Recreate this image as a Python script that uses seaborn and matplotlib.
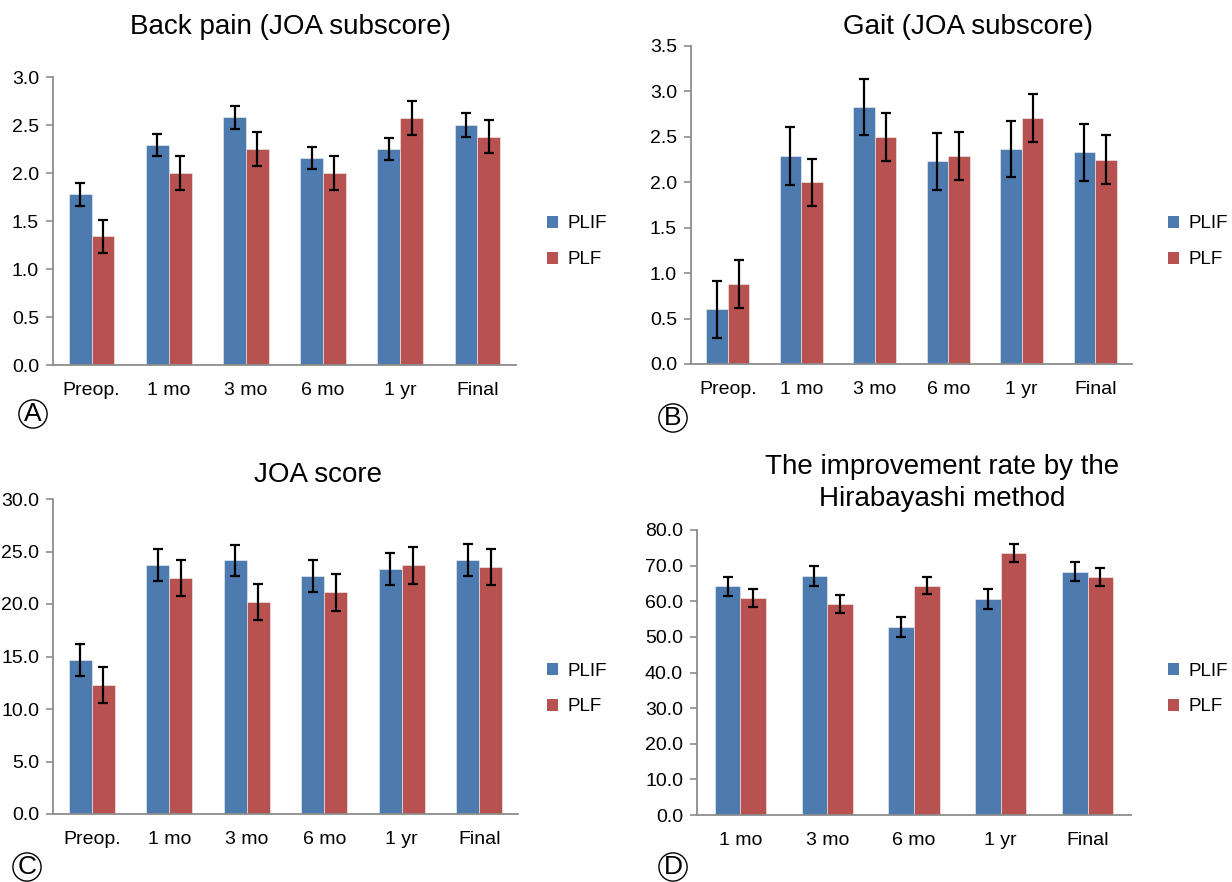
import matplotlib
matplotlib.use("Agg")
import matplotlib.pyplot as plt
from matplotlib.patches import Patch
from matplotlib.ticker import FixedLocator, FormatStrFormatter, MultipleLocator
import seaborn as sns
import pandas as pd
import numpy as np

sns.set_style("white")
plt.rcParams["font.family"] = ["Liberation Sans", "DejaVu Sans"]
plt.rcParams["text.color"] = "black"
plt.rcParams["xtick.labelcolor"] = "black"
plt.rcParams["ytick.labelcolor"] = "black"

# ---- data -------------------------------------------------------------
groups = ["PLIF", "PLF"]
periods_full = ["Preop.", "1 mo", "3 mo", "6 mo", "1 yr", "Final"]
periods_post = ["1 mo", "3 mo", "6 mo", "1 yr", "Final"]

back_plif = [1.78, 2.29, 2.58, 2.16, 2.25, 2.50]
back_plf = [1.34, 2.00, 2.25, 2.00, 2.57, 2.38]
back_plif_sd = [0.12, 0.115, 0.12, 0.115, 0.115, 0.12]
back_plf_sd = [0.175, 0.18, 0.175, 0.18, 0.175, 0.175]

gait_plif = [0.60, 2.29, 2.83, 2.23, 2.37, 2.33]
gait_plf = [0.88, 2.00, 2.50, 2.29, 2.71, 2.25]
gait_plif_sd = [0.315, 0.315, 0.31, 0.315, 0.31, 0.315]
gait_plf_sd = [0.265, 0.26, 0.265, 0.265, 0.265, 0.265]

joa_plif = [14.7, 23.7, 24.15, 22.7, 23.3, 24.2]
joa_plf = [12.3, 22.5, 20.2, 21.1, 23.7, 23.5]
joa_plif_sd = [1.53, 1.5, 1.5, 1.52, 1.53, 1.5]
joa_plf_sd = [1.73, 1.73, 1.72, 1.73, 1.75, 1.73]

rate_plif = [64.2, 67.1, 52.9, 60.7, 68.3]
rate_plf = [60.9, 59.3, 64.4, 73.5, 66.8]
rate_plif_sd = [2.7, 2.75, 2.8, 2.8, 2.75]
rate_plf_sd = [2.5, 2.5, 2.5, 2.5, 2.5]

colors = {"PLIF": "#4E7BAF", "PLF": "#B85250"}
W, H = 1232, 882


def fx(px):
    return px / W


def fy(py):
    return 1 - py / H


def make_panel(fig, rect, cats, v1, v2, s1, s2, ymax, step):
    ax = fig.add_axes(rect)
    df = pd.DataFrame({
        "period": cats * 2,
        "group": [groups[0]] * len(cats) + [groups[1]] * len(cats),
        "value": list(v1) + list(v2),
        "sd": list(s1) + list(s2),
    })
    sns.barplot(data=df, x="period", y="value", hue="group", order=cats,
                hue_order=groups, palette=colors, errorbar=None, width=0.59,
                edgecolor="#F2F2F2", linewidth=0.4, saturation=1, legend=False,
                ax=ax)
    # error bars on each bar centre
    lookup = {(r.period, r.group): r.sd for r in df.itertuples()}
    for p in ax.patches:
        cx = p.get_x() + p.get_width() / 2
        i = int(round(cx))
        g = groups[0] if cx < i else groups[1]
        ax.errorbar(cx, p.get_height(), yerr=lookup[(cats[i], g)],
                    fmt="none", ecolor="black", elinewidth=1.6,
                    capsize=3.8, capthick=1.6, zorder=5)
    ax.set_xlim(-0.5, len(cats) - 0.5)
    ax.set_ylim(0, ymax)
    ax.yaxis.set_major_locator(MultipleLocator(step))
    ax.yaxis.set_major_formatter(FormatStrFormatter("%.1f"))
    ax.xaxis.set_minor_locator(FixedLocator(np.arange(len(cats) + 1) - 0.5))
    ax.tick_params(axis="x", which="major", length=0, pad=12, labelsize=14)
    ax.tick_params(axis="x", which="minor", length=6, width=1.2,
                   color="#8C8C8C", direction="out")
    ax.tick_params(axis="y", length=5, width=1.2, color="#8C8C8C",
                   direction="out", pad=5, labelsize=14, left=True)
    for side in ("top", "right"):
        ax.spines[side].set_visible(False)
    for side in ("left", "bottom"):
        ax.spines[side].set_color("#8C8C8C")
        ax.spines[side].set_linewidth(1.3)
    ax.set_xlabel("")
    ax.set_ylabel("")
    return ax


def add_legend(fig, ax, x, y):
    handles = [Patch(facecolor=colors[g], edgecolor="none", label=g)
               for g in groups]
    ax.legend(handles=handles, loc="upper left", frameon=False,
              bbox_to_anchor=(fx(x), fy(y)), bbox_transform=fig.transFigure,
              fontsize=13.5, handlelength=0.62, handleheight=0.62,
              handletextpad=0.5, labelspacing=1.0, borderaxespad=0)


fig = plt.figure(figsize=(W / 100, H / 100), dpi=100)

axA = make_panel(fig, [fx(53), fy(365), fx(463), (365 - 77) / H],
                 periods_full, back_plif, back_plf, back_plif_sd, back_plf_sd,
                 3.0, 0.5)
axB = make_panel(fig, [fx(691), fy(364), fx(441), (364 - 46) / H],
                 periods_full, gait_plif, gait_plf, gait_plif_sd, gait_plf_sd,
                 3.5, 0.5)
axC = make_panel(fig, [fx(53), fy(814), fx(465), (814 - 499) / H],
                 periods_full, joa_plif, joa_plf, joa_plif_sd, joa_plf_sd,
                 30.0, 5.0)
axD = make_panel(fig, [fx(697), fy(815), fx(434), (815 - 530) / H],
                 periods_post, rate_plif, rate_plf, rate_plif_sd, rate_plf_sd,
                 80.0, 10.0)

add_legend(fig, axA, 539, 208)
add_legend(fig, axB, 1160, 208)
add_legend(fig, axC, 539, 655)
add_legend(fig, axD, 1160, 655)

title_kw = dict(ha="center", va="baseline", fontsize=20)
fig.text(fx(290), fy(34), "Back pain (JOA subscore)", **title_kw)
fig.text(fx(968), fy(34), "Gait (JOA subscore)", **title_kw)
fig.text(fx(318), fy(482), "JOA score", **title_kw)
fig.text(fx(942), fy(474), "The improvement rate by the", **title_kw)
fig.text(fx(942), fy(506), "Hirabayashi method", **title_kw)

letter_kw = dict(ha="center", va="center", fontsize=19,
                 bbox=dict(boxstyle="circle,pad=0.08", fc="none", ec="black",
                           lw=1.0))
fig.text(fx(33), fy(414), "A", **letter_kw)
fig.text(fx(673), fy(418), "B", **letter_kw)
fig.text(fx(27), fy(867), "C", **letter_kw)
fig.text(fx(673), fy(867), "D", **letter_kw)

fig.savefig("out.png", dpi=100)
